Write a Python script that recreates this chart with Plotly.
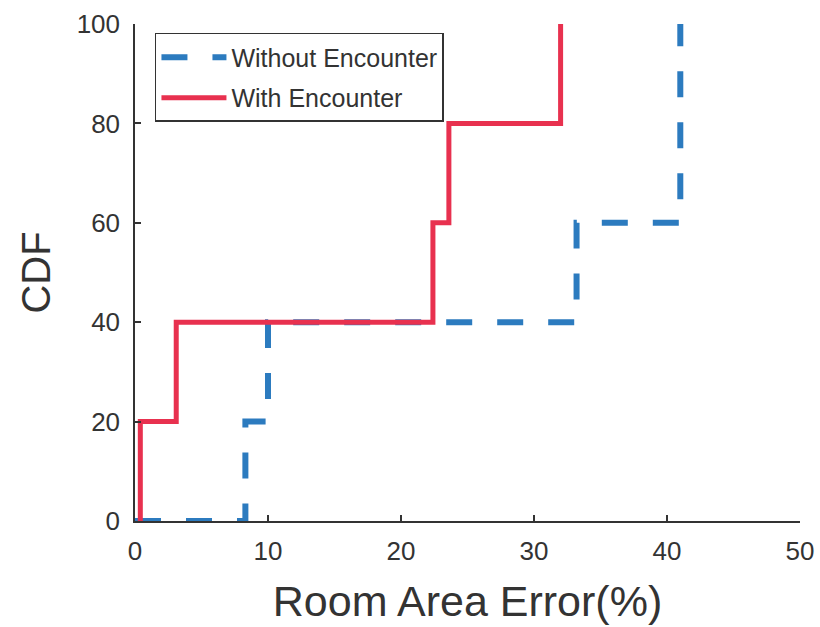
import plotly.graph_objects as go

# Data
without_x = [0, 8.3, 10.0, 33.2, 41.0]
without_y = [0, 20, 40, 60, 100]
with_x = [0.4, 0.4, 3.1, 22.4, 23.6, 32.0]
with_y = [0, 20, 40, 60, 80, 100]
x_ticks = [0, 10, 20, 30, 40, 50]
y_ticks = [0, 20, 40, 60, 80, 100]

BLUE = "#2c7bbf"
RED = "#e8314f"
AX = "#333333"
FONT = "Liberation Sans, Arial, sans-serif"

fig = go.Figure()
fig.add_trace(go.Scatter(
    x=without_x, y=without_y, mode="lines", line_shape="hv",
    name="Without Encounter", legendgroup="a",
    line=dict(color=BLUE, width=6, dash="26px,25px"),
))
fig.add_trace(go.Scatter(
    x=with_x, y=with_y, mode="lines", line_shape="hv",
    name="With Encounter", legendgroup="b",
    line=dict(color=RED, width=5),
))

fig.update_layout(
    width=820, height=627,
    margin=dict(l=135, r=20, t=24, b=106, autoexpand=False),
    paper_bgcolor="white", plot_bgcolor="white",
    font=dict(family=FONT, color=AX),
    showlegend=True,
    legend=dict(
        x=0.03, y=0.982, xanchor="left", yanchor="top",
        bgcolor="white", bordercolor=AX, borderwidth=1.5,
        font=dict(size=25, color=AX, family=FONT),
        itemwidth=65, tracegroupgap=5, traceorder="grouped",
    ),
)
fig.update_xaxes(
    range=[0, 50], tickvals=x_ticks, ticks="inside", ticklen=6, tickwidth=1.5,
    tickcolor=AX, showline=True, linecolor=AX, linewidth=1.5, showgrid=False,
    zeroline=False, tickfont=dict(size=26, color=AX), ticklabelstandoff=6,
    automargin=False,
    title=dict(text="Room Area Error(%)", font=dict(size=43, color=AX), standoff=21),
)
fig.update_yaxes(
    range=[0, 100], tickvals=y_ticks, ticks="inside", ticklen=6, tickwidth=1.5,
    tickcolor=AX, showline=True, linecolor=AX, linewidth=1.5, showgrid=False,
    zeroline=False, tickfont=dict(size=26, color=AX), ticklabelstandoff=8,
    automargin=False,
    title=dict(text="CDF", font=dict(size=40, color=AX), standoff=14),
)

fig.write_html("out.html")
